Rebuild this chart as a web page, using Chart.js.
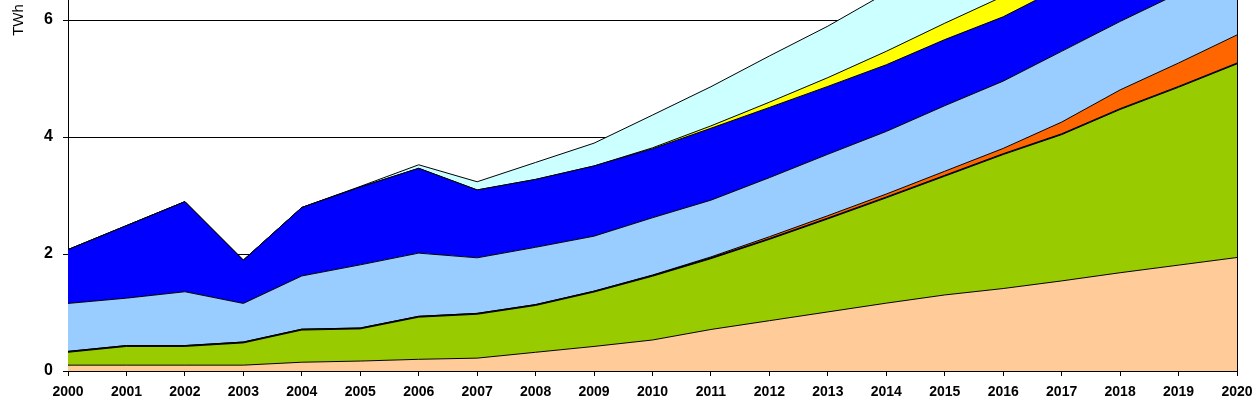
<!DOCTYPE html>
<html>
<head>
<meta charset="utf-8">
<script src="https://cdn.jsdelivr.net/npm/chart.js@4/dist/chart.umd.min.js"></script>
<style>
  html, body { margin: 0; padding: 0; background: #ffffff; overflow: hidden; }
  #wrap { position: absolute; left: 0; top: 0; width: 1260px; height: 418px; }
</style>
</head>
<body>
<div id="wrap"><canvas id="c" width="1260" height="418"></canvas></div>
<script>
// ---- data (TWh), stacked from bottom to top ----
const years = ['2000','2001','2002','2003','2004','2005','2006','2007','2008','2009','2010',
               '2011','2012','2013','2014','2015','2016','2017','2018','2019','2020'];
const peach     = [0.10,0.10,0.10,0.10,0.15,0.17,0.20,0.22,0.32,0.42,0.53,0.71,0.86,1.01,1.16,1.30,1.41,1.54,1.68,1.81,1.94];
const green     = [0.22,0.32,0.32,0.38,0.55,0.55,0.72,0.75,0.80,0.93,1.09,1.21,1.39,1.59,1.80,2.03,2.29,2.50,2.79,3.04,3.31];
const blackBand = [0.015,0.015,0.015,0.015,0.015,0.015,0.015,0.015,0.015,0.015,0.015,0.015,0.015,0.015,0.015,0.015,0.015,0.015,0.015,0.015,0.015];
const orange    = [0,0,0,0,0,0,0,0,0,0,0.005,0.015,0.03,0.04,0.05,0.07,0.09,0.20,0.32,0.40,0.48];
const lightBlue = [0.82,0.81,0.92,0.66,0.91,1.08,1.08,0.95,0.98,0.94,0.98,0.97,1.01,1.05,1.07,1.12,1.15,1.21,1.17,1.19,1.19];
const blue      = [0.92,1.24,1.54,0.74,1.17,1.33,1.45,1.16,1.16,1.20,1.18,1.23,1.20,1.16,1.14,1.13,1.10,1.10,1.10,1.10,1.10];
const yellow    = [0,0,0,0,0,0,0,0,0,0,0.015,0.04,0.09,0.15,0.23,0.28,0.35,0.40,0.45,0.50,0.55];
const cyan      = [0,0,0,0,0,0.01,0.06,0.14,0.29,0.39,0.56,0.67,0.79,0.88,1.00,1.10,1.20,1.30,1.40,1.50,1.60];
const yTicks    = [0, 2, 4, 6];
const yUnit     = 'TWh';

const series = [
  { data: peach,     color: '#FFCC99' },
  { data: green,     color: '#99CC00' },
  { data: blackBand, color: '#000000' },
  { data: orange,    color: '#FF6600' },
  { data: lightBlue, color: '#99CCFF' },
  { data: blue,      color: '#0000FF' },
  { data: yellow,    color: '#FFFF00' },
  { data: cyan,      color: '#CCFFFF' }
];

const FONT = "'Liberation Sans', Arial, sans-serif";

const extras = {
  id: 'extras',
  afterDatasetsDraw(chart) {
    const { ctx, chartArea } = chart;
    ctx.save();
    ctx.strokeStyle = '#000';
    ctx.lineWidth = 1;
    ctx.beginPath();
    const x = Math.round(chartArea.right) + 0.5;
    ctx.moveTo(x, chartArea.top);
    ctx.lineTo(x, chartArea.bottom);
    ctx.stroke();
    ctx.restore();
  },
  afterDraw(chart) {
    const { ctx } = chart;
    ctx.save();
    ctx.translate(18.5, 20);
    ctx.rotate(-Math.PI / 2);
    ctx.font = '15px ' + FONT;
    ctx.fillStyle = '#000';
    ctx.textAlign = 'center';
    ctx.textBaseline = 'middle';
    ctx.fillText(yUnit, 0, 0);
    ctx.restore();
  }
};

new Chart(document.getElementById('c'), {
  type: 'line',
  data: {
    labels: years,
    datasets: series.map((s, i) => ({
      data: s.data,
      backgroundColor: s.color,
      borderColor: '#000000',
      borderWidth: 1,
      fill: i === 0 ? 'origin' : '-1',
      pointRadius: 0,
      tension: 0
    }))
  },
  options: {
    responsive: false,
    devicePixelRatio: 1,
    animation: false,
    layout: { padding: { left: 0, right: 23, top: 0, bottom: 0 } },
    plugins: { legend: { display: false }, tooltip: { enabled: false } },
    scales: {
      x: {
        offset: false,
        grid: { drawOnChartArea: false, color: '#000', tickLength: 5, lineWidth: 1 },
        border: { display: true, color: '#000', width: 1 },
        ticks: {
          color: '#000', maxRotation: 0, autoSkip: false, padding: 8,
          font: { family: FONT, size: 14, weight: 'bold' }
        },
        afterFit(scale) {
          scale.height = 47;
          scale.paddingLeft = 0; scale.paddingRight = 0;
          scale.paddingTop = 0; scale.paddingBottom = 0;
        }
      },
      y: {
        stacked: true,
        min: 0,
        max: 6.342,
        afterBuildTicks(scale) {
          scale.ticks = yTicks.map(v => ({ value: v })).concat([{ value: 6.342 }]);
        },
        grid: {
          color: '#000', lineWidth: 1, tickLength: 5,
          drawOnChartArea: true
        },
        border: { display: true, color: '#000', width: 1 },
        ticks: {
          color: '#000', padding: 10,
          font: { family: FONT, size: 16, weight: 'bold' },
          callback: (v) => (yTicks.includes(v) ? String(v) : null)
        },
        afterFit(scale) {
          scale.width = 68;
          scale.paddingTop = 0; scale.paddingBottom = 0;
          scale.paddingLeft = 0; scale.paddingRight = 0;
        }
      }
    }
  },
  plugins: [extras]
});
</script>
</body>
</html>
